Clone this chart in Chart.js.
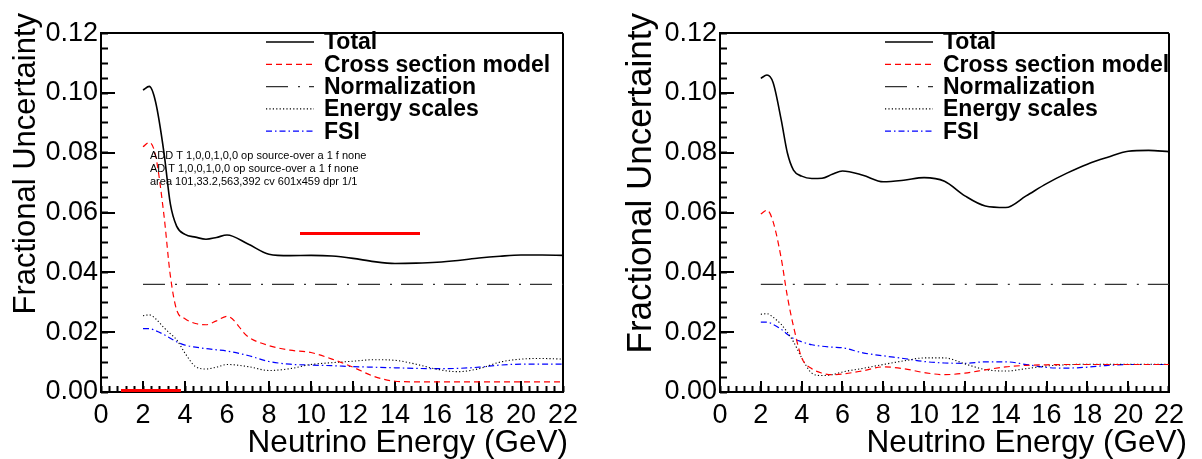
<!DOCTYPE html>
<html>
<head>
<meta charset="utf-8">
<script src="https://cdn.jsdelivr.net/npm/chart.js@4"></script>
<style>
  body { margin: 0; background: #fff; width: 1202px; height: 459px; overflow: hidden; position: relative; }
  .panel { position: absolute; top: 0; height: 459px; }
  #leftPanel { left: 0; width: 601px; }
  #rightPanel { left: 619px; width: 583px; }
</style>
</head>
<body>
<div class="panel" id="leftPanel"><canvas id="leftChart" width="601" height="459"></canvas></div>
<div class="panel" id="rightPanel"><canvas id="rightChart" width="583" height="459"></canvas></div>
<script>
const energies = [2, 2.3, 2.6, 3, 3.3, 3.6, 4, 4.5, 5, 5.5, 6, 7, 8, 9, 10, 11, 12, 13, 14, 15, 16, 17, 18, 19, 20, 21, 22];
const normEnergies = [2, 22];

// Left panel
const leftTotal = [0.101, 0.1022, 0.097, 0.080, 0.063, 0.0555, 0.0527, 0.0518, 0.0511, 0.0517, 0.0525, 0.0495, 0.0461, 0.0456, 0.0457, 0.0455, 0.0447, 0.0436, 0.043, 0.0431, 0.0434, 0.044, 0.0448, 0.0454, 0.0458, 0.0458, 0.0457];
const leftXsec = [0.082, 0.0835, 0.079, 0.059, 0.039, 0.0275, 0.0245, 0.0229, 0.0225, 0.0238, 0.0253, 0.0185, 0.0155, 0.014, 0.0132, 0.011, 0.0083, 0.0052, 0.0036, 0.0034, 0.0034, 0.0034, 0.0034, 0.0034, 0.0034, 0.0034, 0.0034];
const leftNorm = [0.036, 0.036];
const leftEscale = [0.0255, 0.0258, 0.0245, 0.0215, 0.0195, 0.0175, 0.013, 0.0085, 0.0077, 0.0083, 0.0092, 0.0085, 0.0072, 0.0078, 0.0092, 0.0098, 0.0103, 0.0108, 0.0106, 0.0093, 0.0076, 0.0068, 0.0078, 0.0100, 0.011, 0.0112, 0.011];
const leftFsi = [0.0212, 0.0212, 0.0205, 0.0192, 0.018, 0.0168, 0.0157, 0.015, 0.0145, 0.0141, 0.0137, 0.0122, 0.0102, 0.0093, 0.009, 0.0088, 0.0085, 0.0083, 0.0081, 0.0079, 0.0078, 0.0079, 0.0083, 0.009, 0.0093, 0.0093, 0.0093];

// Right panel
const rightTotal = [0.1049, 0.106, 0.1035, 0.091, 0.080, 0.0742, 0.0722, 0.0714, 0.0715, 0.0728, 0.0739, 0.0725, 0.0703, 0.0708, 0.0717, 0.0705, 0.0656, 0.0622, 0.0617, 0.0656, 0.0697, 0.0732, 0.0762, 0.0785, 0.0805, 0.0808, 0.0804];
const rightXsec = [0.0595, 0.0608, 0.057, 0.0447, 0.032, 0.022, 0.0115, 0.0078, 0.0063, 0.0058, 0.006, 0.0071, 0.0084, 0.0078, 0.0065, 0.0058, 0.0063, 0.0074, 0.0084, 0.0089, 0.0091, 0.0092, 0.0092, 0.0092, 0.0092, 0.0092, 0.0092];
const rightNorm = [0.036, 0.036];
const rightEscale = [0.026, 0.0262, 0.025, 0.0226, 0.020, 0.0168, 0.0115, 0.0063, 0.0055, 0.0058, 0.0067, 0.0079, 0.0092, 0.0104, 0.0114, 0.0114, 0.0094, 0.0075, 0.007, 0.0078, 0.0087, 0.0091, 0.0093, 0.0093, 0.0093, 0.0093, 0.0093];
const rightFsi = [0.0234, 0.0234, 0.0226, 0.021, 0.0193, 0.0179, 0.0168, 0.0158, 0.0153, 0.015, 0.0148, 0.0131, 0.0121, 0.0112, 0.0102, 0.0097, 0.0096, 0.0101, 0.0101, 0.0092, 0.0082, 0.008, 0.0083, 0.0089, 0.0092, 0.0092, 0.0092];

const seriesLabels = ['Total', 'Cross section model', 'Normalization', 'Energy scales', 'FSI'];
const xTicks = [0, 2, 4, 6, 8, 10, 12, 14, 16, 18, 20, 22];
const yTicks = [0, 0.02, 0.04, 0.06, 0.08, 0.10, 0.12];
const xTitle = 'Neutrino Energy (GeV)';
const yTitle = 'Fractional Uncertainty';

const FONT = '"Liberation Sans", Arial, Helvetica, sans-serif';
const X_MIN = xTicks[0], X_MAX = xTicks[xTicks.length - 1];
const Y_MIN = yTicks[0], Y_MAX = yTicks[yTicks.length - 1];

function toPoints(xs, ys) {
    return xs.map((x, i) => ({ x: x, y: ys[i] }));
}

function stepValues(lo, hi, step) {
    const out = [];
    for (let v = lo; v <= hi + step / 2; v += step) out.push(Math.round(v / step) * step);
    return out;
}

// black only on the first and last grid line -> the closed frame
function edgeColor(max) {
    return c => (c.tick && (c.tick.value === 0 || Math.abs(c.tick.value - max) < 1e-9)) ? '#000000' : 'rgba(0,0,0,0)';
}

function stateText(ctx) {
    const t = ctx.getTransform();
    return 'T ' + [t.a, t.b, t.c, t.d, t.e, t.f].map(v => +v.toFixed(2)).join(',') +
        ' op ' + ctx.globalCompositeOperation + ' a ' + ctx.globalAlpha + ' f ' + ctx.filter;
}

const diag = { lines: [] };

const rootStyle = {
    id: 'rootStyle',
    afterDatasetsDraw(chart, args, opts) {
        if (opts.diag) diag.lines.push('ADD ' + stateText(chart.ctx));
    },
    afterDraw(chart, args, opts) {
        const ctx = chart.ctx;
        ctx.save();
        ctx.fillStyle = '#000000';

        ctx.font = opts.titleSize + 'px ' + FONT;
        ctx.textAlign = 'right';
        ctx.textBaseline = 'alphabetic';
        ctx.fillText(xTitle, 568, 452);
        ctx.save();
        ctx.translate(opts.yTitleX, 13);
        ctx.rotate(-Math.PI / 2);
        ctx.font = opts.yTitleSize + 'px ' + FONT;
        ctx.fillText(yTitle, 0, 0);
        ctx.restore();

        ctx.font = 'bold 23px ' + FONT;
        ctx.textAlign = 'left';
        ctx.textBaseline = 'middle';
        chart.data.datasets.forEach((ds, i) => {
            const y = 42 + i * 22.3;
            ctx.save();
            ctx.strokeStyle = ds.borderColor;
            ctx.lineWidth = ds.borderWidth;
            ctx.setLineDash(ds.borderDash || []);
            ctx.beginPath();
            ctx.moveTo(266, y);
            ctx.lineTo(314, y);
            ctx.stroke();
            ctx.restore();
            ctx.fillText(ds.label, 324, y + 1);
        });

        if (opts.diag) {
            diag.lines.push('AD ' + stateText(ctx));
            const a = chart.chartArea;
            diag.lines.push('area ' + [a.left, a.top, a.right, a.bottom].join(',') + ' cv ' + chart.canvas.width + 'x' + chart.canvas.height +
                ' dpr ' + window.devicePixelRatio + '/' + chart.currentDevicePixelRatio);
            ctx.font = '11px ' + FONT;
            ctx.textBaseline = 'top';
            diag.lines.slice(-6).forEach((s, i) => ctx.fillText(s, 150, 150 + i * 13));
            ctx.fillStyle = '#ff0000';
            ctx.fillRect(300, 232, 120, 3);
            ctx.fillRect(a.left + 20, a.bottom - 3, 60, 3);
        }
        ctx.restore();
    }
};

function makeChart(canvasId, total, xsec, norm, escale, fsi, rightPad, style) {
    return new Chart(document.getElementById(canvasId), {
        type: 'line',
        data: {
            datasets: [
                { label: seriesLabels[0], data: toPoints(energies, total), borderColor: '#000000', borderWidth: 1.6 },
                { label: seriesLabels[1], data: toPoints(energies, xsec), borderColor: '#ff0000', borderWidth: 1.2, borderDash: [6, 4] },
                { label: seriesLabels[2], data: toPoints(normEnergies, norm), borderColor: '#333333', borderWidth: 1.4, borderDash: [22, 10, 2, 9] },
                { label: seriesLabels[3], data: toPoints(energies, escale), borderColor: '#000000', borderWidth: 1.1, borderDash: [1.2, 2.2] },
                { label: seriesLabels[4], data: toPoints(energies, fsi), borderColor: '#0000ff', borderWidth: 1.2, borderDash: [6, 3, 1.5, 3] }
            ]
        },
        options: {
            responsive: false,
            animation: false,
            layout: { padding: { top: 19, right: rightPad, left: 0, bottom: 0 } },
            elements: {
                point: { radius: 0 },
                line: { cubicInterpolationMode: 'monotone', fill: false }
            },
            plugins: {
                legend: { display: false },
                tooltip: { enabled: false },
                rootStyle: style
            },
            scales: {
                x: {
                    type: 'linear',
                    min: X_MIN,
                    max: X_MAX,
                    afterBuildTicks: s => { s.ticks = xTicks.map(v => ({ value: v })); },
                    afterFit: s => { s.height = 67; },
                    grid: { display: true, drawOnChartArea: true, color: edgeColor(X_MAX), lineWidth: 2,
                            drawTicks: true, tickLength: -11, tickColor: '#000000', tickWidth: 2 },
                    border: { display: true, color: '#000000', width: 2 },
                    ticks: { color: '#000', padding: 18, maxRotation: 0, autoSkip: false, font: { family: FONT, size: 27 } }
                },
                xMinor: {
                    type: 'linear',
                    position: { y: 0 },
                    min: X_MIN,
                    max: X_MAX,
                    afterBuildTicks: s => { s.ticks = stepValues(X_MIN, X_MAX, 0.4).map(v => ({ value: v })); },
                    grid: { display: true, drawOnChartArea: false, drawTicks: true, tickLength: -6, tickColor: '#000000', tickWidth: 2 },
                    border: { display: false },
                    ticks: { display: false, autoSkip: false }
                },
                y: {
                    min: Y_MIN,
                    max: Y_MAX,
                    afterBuildTicks: s => { s.ticks = yTicks.map(v => ({ value: v })); },
                    afterFit: s => { s.width = 101; },
                    grid: { display: true, drawOnChartArea: true, color: edgeColor(Y_MAX), lineWidth: 2,
                            drawTicks: true, tickLength: -14, tickColor: '#000000', tickWidth: 2 },
                    border: { display: true, color: '#000000', width: 2 },
                    ticks: { color: '#000', padding: 17, font: { family: FONT, size: 27 }, callback: v => v.toFixed(2) }
                },
                yMinor: {
                    position: { x: 0 },
                    min: Y_MIN,
                    max: Y_MAX,
                    afterBuildTicks: s => { s.ticks = stepValues(Y_MIN, Y_MAX, 0.005).map(v => ({ value: v })); },
                    grid: { display: true, drawOnChartArea: false, drawTicks: true, tickLength: -7, tickColor: '#000000', tickWidth: 2 },
                    border: { display: false },
                    ticks: { display: false, autoSkip: false }
                }
            }
        },
        plugins: [rootStyle]
    });
}

makeChart('leftChart', leftTotal, leftXsec, leftNorm, leftEscale, leftFsi, 38, { titleSize: 31.5, yTitleSize: 31, yTitleX: 35, diag: true });
makeChart('rightChart', rightTotal, rightXsec, rightNorm, rightEscale, rightFsi, 20, { titleSize: 31.5, yTitleSize: 35, yTitleX: 32, diag: false });
</script>
</body>
</html>
